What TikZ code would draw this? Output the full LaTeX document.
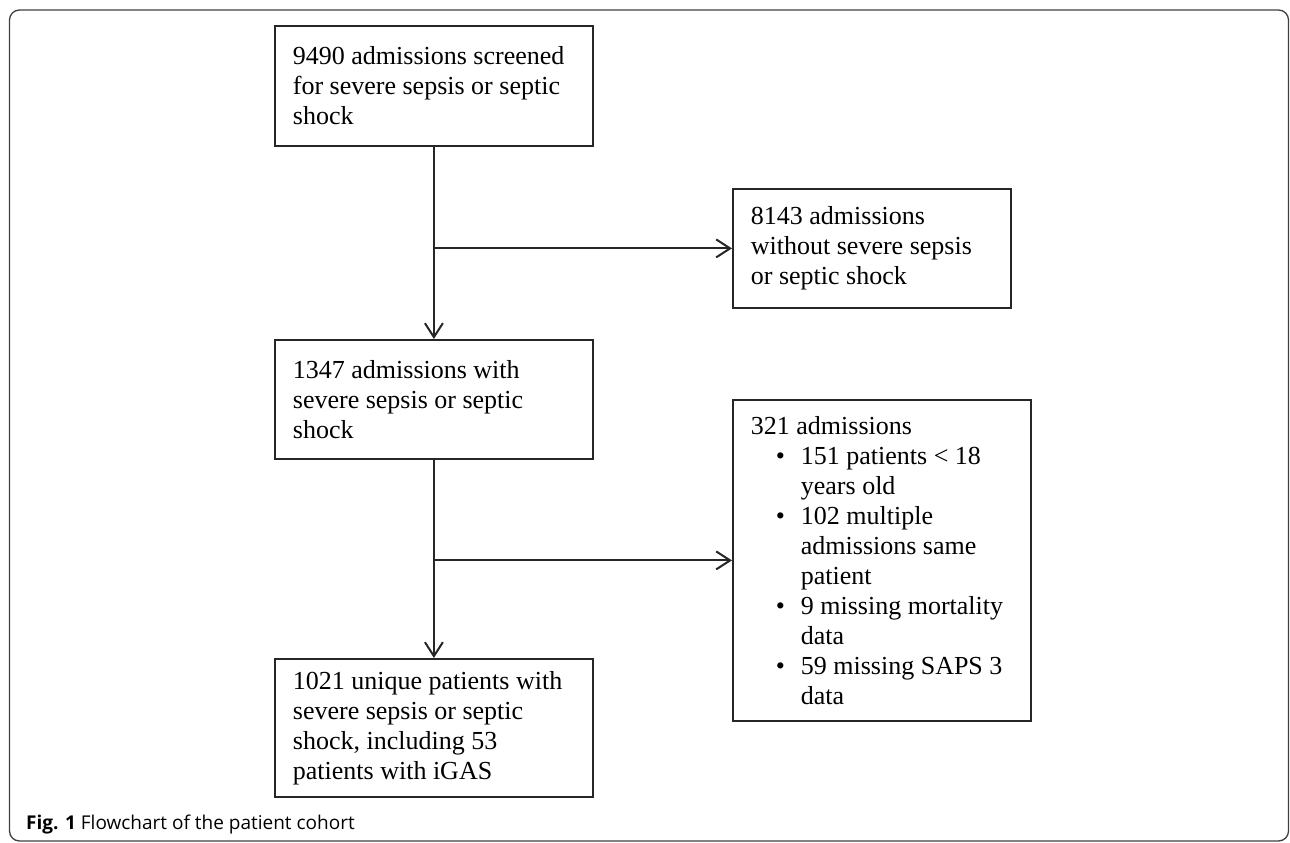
\documentclass[tikz,border=0pt]{standalone}
\usepackage{fontspec}
\setmainfont{Liberation Serif}
\newfontfamily\capfont{Open Sans}
\usetikzlibrary{%
  calc,%
  arrows.meta%
}
\newcommand\bul{\hspace*{25pt}\makebox[25pt][l]{\textbullet}}
\newcommand\ind{\hspace*{50pt}}

\begin{document}
\begin{tikzpicture}[x=1pt,y=-1pt,
    box/.style={draw=black!85, line width=1.8pt, inner xsep=18pt, inner ysep=0pt,
      align=flush left, anchor=north west, font=\fontsize{26}{30}\selectfont},
    flow/.style={draw=black!85, line width=2pt, ->},
    >={Straight Barb[length=14pt,width=18pt]}]

    \useasboundingbox (0,0) rectangle (1290,843);

    %% outer frame
    \draw[black!75, line width=1.3pt, rounded corners=10pt] (9.5,10) rectangle (1288.5,841);

    %%%%%%%%%%%%%%%%
    %% boxes
    \node[box, text width=282pt, minimum height=120pt] (screened) at (274,25)
    {9490 admissions screened\\ for severe sepsis or septic\\ shock};
    \node[box, text width=242pt, minimum height=119pt] (nosepsis) at (732,188)
    {8143 admissions\\ without severe sepsis\\ or septic shock};
    \node[box, text width=282pt, minimum height=119pt] (sepsis) at (274,339)
    {1347 admissions with\\ severe sepsis or septic\\ shock};
    \node[box, text width=262pt, minimum height=321pt] (excluded) at (732,399)
    {321 admissions\\
      \bul 151 patients < 18\\ \ind years old\\
      \bul 102 multiple\\ \ind admissions same\\ \ind patient\\
      \bul 9 missing mortality\\ \ind data\\
      \bul 59 missing SAPS 3\\ \ind data};
    \node[box, text width=282pt, minimum height=138pt] (cohort) at (274,658)
    {1021 unique patients with\\ severe sepsis or septic\\ shock, including 53\\ patients with iGAS};

    %%%%%%%%%%%%%%%%
    %% arrows
    \draw[flow] (screened) -- (sepsis);
    \draw[flow] (nosepsis.west -| screened.south) -- (nosepsis.west);
    \draw[flow] (sepsis) -- (cohort);
    \draw[flow] (excluded.west -| sepsis.south) -- (excluded.west);

    %% caption
    \node[anchor=base west, inner sep=0pt, font=\capfont\fontsize{19}{22}\selectfont]
    (caption) at (26,829) {\textbf{Fig. 1} Flowchart of the patient cohort};

  \end{tikzpicture}
\end{document}
